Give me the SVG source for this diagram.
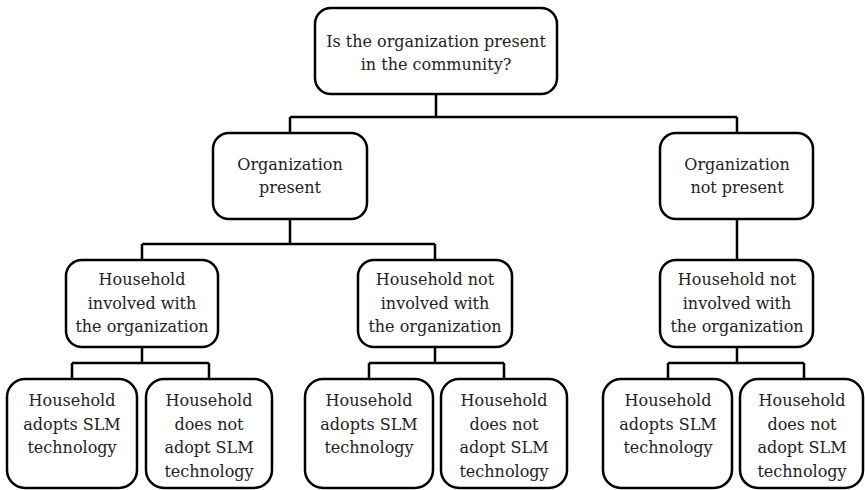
<svg xmlns="http://www.w3.org/2000/svg" width="865" height="490" viewBox="0 0 865 490">
<style>
.box{fill:#fff;stroke:#000;stroke-width:2.5}
.t{font-family:'DejaVu Serif','Liberation Serif',serif;font-size:16px;fill:#222;text-anchor:middle}
.c{fill:none;stroke:#000;stroke-width:2.5}
</style>
<rect width="865" height="490" fill="#fff"/>
<g id="connectors">
<path class="c" d="M436 94V117M290 117H737M290 117V133M737 117V133"/>
<path class="c" d="M290 219V244M142 244H435M142 244V260M435 244V260"/>
<path class="c" d="M737 219V260"/>
<path class="c" d="M142 347V363M72 363H209M72 363V379M209 363V379"/>
<path class="c" d="M435 347V363M369 363H504M369 363V379M504 363V379"/>
<path class="c" d="M737 347V363M668 363H804M668 363V379M804 363V379"/>
</g>
<g id="root">
<rect class="box" x="315" y="8" width="242" height="86" rx="16"/>
<text class="t" x="436" y="47">Is the organization present</text>
<text class="t" x="436" y="70">in the community?</text>
</g>
<g id="org-present">
<rect class="box" x="213" y="133" width="154" height="86" rx="16"/>
<text class="t" x="290" y="170">Organization</text>
<text class="t" x="290" y="193">present</text>
</g>
<g id="org-not-present">
<rect class="box" x="660" y="133" width="153" height="86" rx="16"/>
<text class="t" x="737" y="170">Organization</text>
<text class="t" x="737" y="193">not present</text>
</g>
<g id="hh-involved">
<rect class="box" x="66" y="260" width="152" height="87" rx="16"/>
<text class="t" x="142" y="285">Household</text>
<text class="t" x="142" y="309">involved with</text>
<text class="t" x="142" y="332">the organization</text>
</g>
<g id="hh-not-involved-1">
<rect class="box" x="358" y="260" width="154" height="87" rx="16"/>
<text class="t" x="435" y="285">Household not</text>
<text class="t" x="435" y="309">involved with</text>
<text class="t" x="435" y="332">the organization</text>
</g>
<g id="hh-not-involved-2">
<rect class="box" x="660" y="260" width="153" height="87" rx="16"/>
<text class="t" x="737" y="285">Household not</text>
<text class="t" x="737" y="309">involved with</text>
<text class="t" x="737" y="332">the organization</text>
</g>
<g id="leaf-1a">
<rect class="box" x="7" y="379" width="130" height="109" rx="18"/>
<text class="t" x="72" y="406">Household</text>
<text class="t" x="72" y="430">adopts SLM</text>
<text class="t" x="72" y="453">technology</text>
</g>
<g id="leaf-1b">
<rect class="box" x="146" y="379" width="126" height="109" rx="18"/>
<text class="t" x="209" y="406">Household</text>
<text class="t" x="209" y="430">does not</text>
<text class="t" x="209" y="453">adopt SLM</text>
<text class="t" x="209" y="477">technology</text>
</g>
<g id="leaf-2a">
<rect class="box" x="305" y="379" width="128" height="109" rx="18"/>
<text class="t" x="369" y="406">Household</text>
<text class="t" x="369" y="430">adopts SLM</text>
<text class="t" x="369" y="453">technology</text>
</g>
<g id="leaf-2b">
<rect class="box" x="441" y="379" width="126" height="109" rx="18"/>
<text class="t" x="504" y="406">Household</text>
<text class="t" x="504" y="430">does not</text>
<text class="t" x="504" y="453">adopt SLM</text>
<text class="t" x="504" y="477">technology</text>
</g>
<g id="leaf-3a">
<rect class="box" x="603" y="379" width="129" height="109" rx="18"/>
<text class="t" x="668" y="406">Household</text>
<text class="t" x="668" y="430">adopts SLM</text>
<text class="t" x="668" y="453">technology</text>
</g>
<g id="leaf-3b">
<rect class="box" x="740" y="379" width="123" height="109" rx="18"/>
<text class="t" x="802" y="406">Household</text>
<text class="t" x="802" y="430">does not</text>
<text class="t" x="802" y="453">adopt SLM</text>
<text class="t" x="802" y="477">technology</text>
</g>
</svg>
